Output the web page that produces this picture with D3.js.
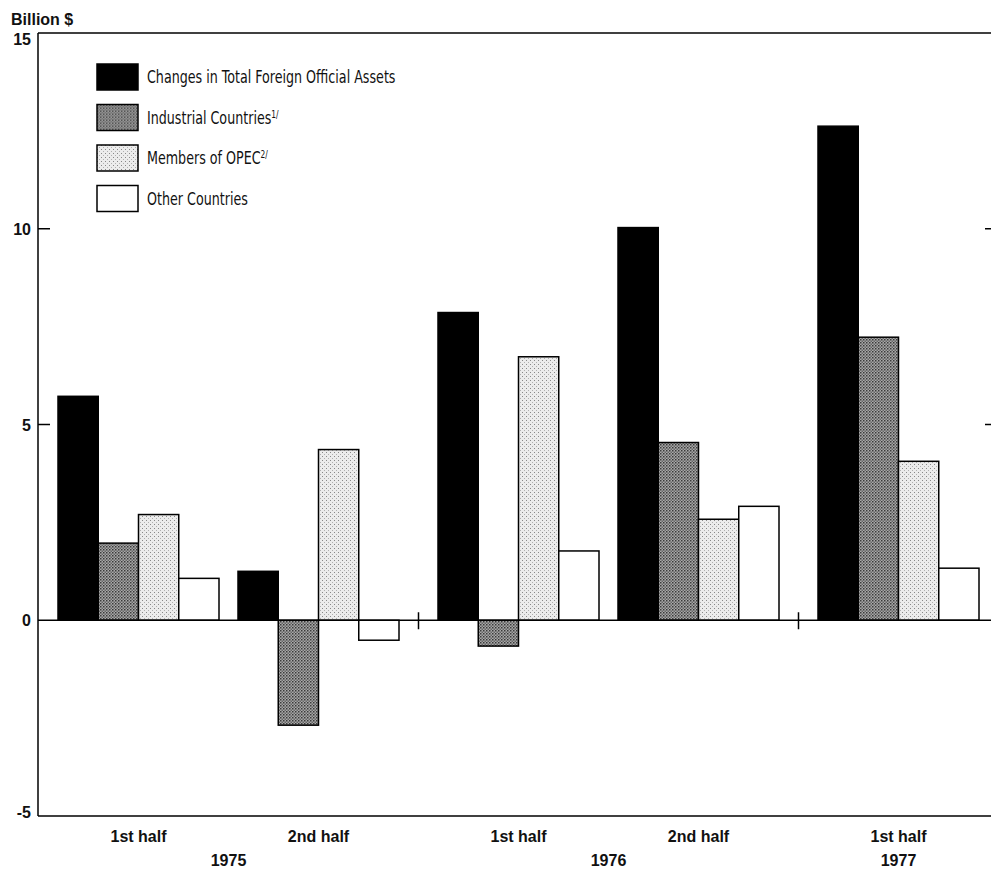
<!DOCTYPE html>
<html>
<head>
<meta charset="utf-8">
<script src="https://cdnjs.cloudflare.com/ajax/libs/d3/7.8.5/d3.min.js"></script>
<style>
  body { margin: 0; background: #fff; }
  .tick-label, .cat-label, .unit { font-family: "Liberation Sans", Arial, sans-serif; font-weight: bold; font-size: 16px; fill: #111; }
  .legend text { font-family: "DejaVu Sans Condensed", "Liberation Sans Narrow", sans-serif; font-size: 17px; fill: #111; }
  .bar { stroke: #000; stroke-width: 1.5; }
  .frame { stroke: #000; stroke-width: 1.5; fill: none; }
</style>
</head>
<body>
<div id="chart"></div>
<script>
// data
var periods = ["1st half", "2nd half", "1st half", "2nd half", "1st half"];
var years = ["1975", "1975", "1976", "1976", "1977"];
var seriesNames = ["Changes in Total Foreign Official Assets", "Industrial Countries", "Members of OPEC", "Other Countries"];
var footnotes = ["", "1/", "2/", ""];
var total = [5.72, 1.25, 7.86, 10.03, 12.62];
var industrial = [1.97, -2.68, -0.66, 4.54, 7.23];
var opec = [2.70, 4.36, 6.73, 2.58, 4.06];
var other = [1.07, -0.51, 1.77, 2.91, 1.33];
var yTicks = [15, 10, 5, 0, -5];

var W = 991, H = 869;
var margin = {top: 33, right: 0, bottom: 53, left: 38};
var yearList = Array.from(new Set(years));

var svg = d3.select("#chart").append("svg")
	.attr("width", W)
	.attr("height", H);

// dotted fills to imitate the halftone screens
var defs = svg.append("defs");
var pDark = defs.append("pattern").attr("id", "pDark")
	.attr("width", 3).attr("height", 3).attr("patternUnits", "userSpaceOnUse");
pDark.append("rect").attr("width", 3).attr("height", 3).attr("fill", "#a8a8a8");
pDark.append("rect").attr("width", 1.5).attr("height", 1.5).attr("fill", "#3a3a3a");
pDark.append("rect").attr("x", 1.5).attr("y", 1.5).attr("width", 1.5).attr("height", 1.5).attr("fill", "#666");

var pLight = defs.append("pattern").attr("id", "pLight")
	.attr("width", 4).attr("height", 4).attr("patternUnits", "userSpaceOnUse");
pLight.append("rect").attr("width", 4).attr("height", 4).attr("fill", "#ececec");
pLight.append("rect").attr("width", 1).attr("height", 1).attr("fill", "#888");
pLight.append("rect").attr("x", 2).attr("y", 2).attr("width", 1).attr("height", 1).attr("fill", "#b0b0b0");

var fills = ["#000", "url(#pDark)", "url(#pLight)", "#fff"];

// y scale
var y = d3.scaleLinear().domain([-5, 15]).range([H - margin.bottom, margin.top]);

// x: one slot per half year, with an extra gap where the year changes
var yearGap = 20 / 180;
var groupWidth = 161 / 180;
var xs = d3.scaleLinear().domain([0, 1]).range([margin.left + 20, margin.left + 200]);
function slot(i) { return i + yearList.indexOf(years[i]) * yearGap; }

var x1 = d3.scaleBand().domain(d3.range(seriesNames.length)).range([0, xs(groupWidth) - xs(0)]);

var values = [total, industrial, opec, other];

// bars
var groups = svg.selectAll(".group")
	.data(periods)
	.enter().append("g")
	.attr("class", "group")
	.attr("transform", function(d, i) { return "translate(" + xs(slot(i)) + ",0)"; });

groups.selectAll("rect")
	.data(function(d, i) { return values.map(function(v, s) { return {s: s, v: v[i]}; }); })
	.enter().append("rect")
	.attr("class", "bar")
	.attr("x", function(d) { return x1(d.s); })
	.attr("width", x1.bandwidth())
	.attr("y", function(d) { return y(Math.max(0, d.v)); })
	.attr("height", function(d) { return Math.abs(y(d.v) - y(0)); })
	.attr("fill", function(d) { return fills[d.s]; });

// frame: left axis, top and bottom lines, zero line
var xL = margin.left, xR = W;
svg.append("line").attr("class", "frame").attr("x1", xL).attr("x2", xL).attr("y1", y(15)).attr("y2", y(-5));
svg.append("line").attr("class", "frame").attr("x1", xL).attr("x2", xR).attr("y1", y(15)).attr("y2", y(15));
svg.append("line").attr("class", "frame").attr("x1", xL).attr("x2", xR).attr("y1", y(-5)).attr("y2", y(-5));
svg.append("line").attr("class", "frame").attr("x1", xL).attr("x2", xR).attr("y1", y(0)).attr("y2", y(0));

// ticks
var inner = yTicks.filter(function(t) { return t != 15 && t != -5 && t != 0; });
svg.selectAll(".ltick").data(inner).enter().append("line")
	.attr("class", "frame")
	.attr("x1", xL).attr("x2", xL + 12)
	.attr("y1", function(d) { return y(d); }).attr("y2", function(d) { return y(d); });
svg.selectAll(".rtick").data(inner).enter().append("line")
	.attr("class", "frame")
	.attr("x1", W - 6).attr("x2", W)
	.attr("y1", function(d) { return y(d); }).attr("y2", function(d) { return y(d); });

svg.selectAll(".tick-label").data(yTicks).enter().append("text")
	.attr("class", "tick-label")
	.attr("x", 31)
	.attr("y", function(d) { return y(d); })
	.attr("dy", function(d) { return d == 15 ? "0.75em" : (d == -5 ? "0.1em" : "0.38em"); })
	.attr("text-anchor", "end")
	.text(function(d) { return d; });

svg.append("text").attr("class", "unit")
	.attr("x", 11).attr("y", 25)
	.text("Billion $");

// year break marks on the zero line
var breaks = [];
for (var i = 1; i < periods.length; i++) {
	if (years[i] != years[i - 1]) {
		breaks.push((xs(slot(i - 1) + groupWidth) + xs(slot(i))) / 2);
	}
}
svg.selectAll(".brk").data(breaks).enter().append("line")
	.attr("class", "frame")
	.attr("x1", function(d) { return d; }).attr("x2", function(d) { return d; })
	.attr("y1", y(0) - 8).attr("y2", y(0) + 9);

// category labels
var half = (xs(groupWidth) - xs(0)) / 2;
svg.selectAll(".cat-label").data(periods).enter().append("text")
	.attr("class", "cat-label")
	.attr("x", function(d, i) { return xs(slot(i)) + half; })
	.attr("y", 842)
	.attr("text-anchor", "middle")
	.text(function(d) { return d; });

svg.selectAll(".year-label").data(yearList).enter().append("text")
	.attr("class", "cat-label")
	.attr("x", function(yr) {
		var c = periods.map(function(p, i) { return i; }).filter(function(i) { return years[i] == yr; })
			.map(function(i) { return xs(slot(i)) + half; });
		return d3.mean(c);
	})
	.attr("y", 866)
	.attr("text-anchor", "middle")
	.text(function(d) { return d; });

// legend
var legend = svg.append("g").attr("class", "legend").attr("transform", "translate(97,64)");
var items = legend.selectAll("g").data(seriesNames).enter().append("g")
	.attr("transform", function(d, i) { return "translate(0," + (i * 40.5) + ")"; });
items.append("rect")
	.attr("class", "bar")
	.attr("width", 41).attr("height", 26)
	.attr("fill", function(d, i) { return fills[i]; });
var lt = items.append("text")
	.attr("transform", "translate(50,19) scale(0.83,1)");
lt.append("tspan").text(function(d) { return d; });
lt.append("tspan")
	.attr("font-size", "10px")
	.attr("dy", "-6")
	.text(function(d, i) { return footnotes[i]; });
</script>
</body>
</html>
